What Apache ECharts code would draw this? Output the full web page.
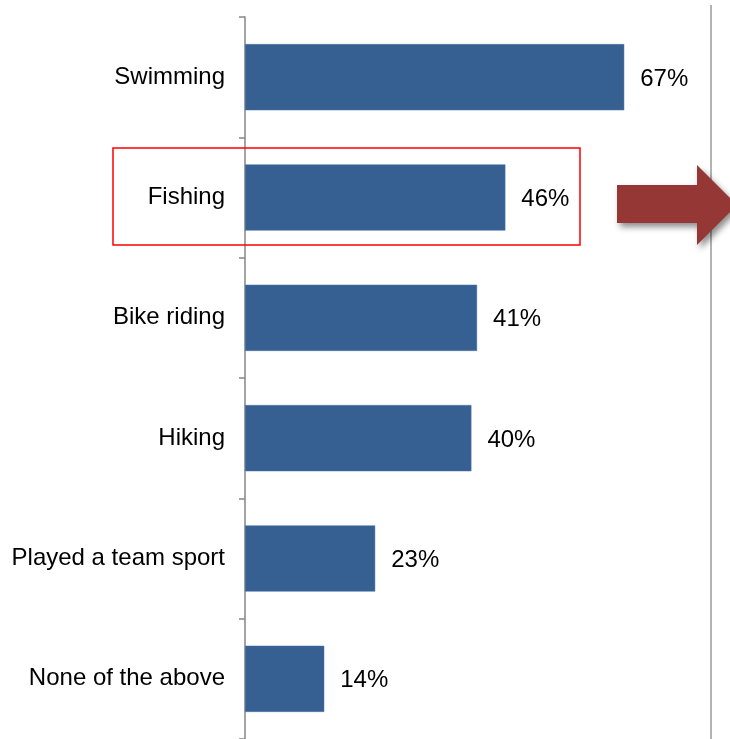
<!DOCTYPE html>
<html><head><meta charset="utf-8">
<script src="https://cdn.jsdelivr.net/npm/echarts@6/dist/echarts.min.js"></script>
<style>html,body{margin:0;padding:0;background:#fff}#c{width:730px;height:739px}</style>
</head><body><div id="c"></div>
<script>
const categories = ['Swimming', 'Fishing', 'Bike riding', 'Hiking', 'Played a team sport', 'None of the above'];
const values = [67, 46, 41, 40, 23, 14];

const chart = echarts.init(document.getElementById('c'));
chart.setOption({
  animation: false,
  backgroundColor: '#ffffff',
  grid: { left: 245, top: 17, bottom: 0, right: -81, containLabel: false, outerBoundsMode: 'none' },
  xAxis: { type: 'value', min: 0, max: 100, show: false },
  yAxis: {
    type: 'category', data: categories, inverse: true,
    axisLine: { show: true, lineStyle: { color: '#868686', width: 1.5 } },
    axisTick: { show: true, length: 6, lineStyle: { color: '#868686', width: 1.5 } },
    axisLabel: { fontFamily: 'Liberation Sans, Arial, sans-serif', fontSize: 24, color: '#000', margin: 20, padding: [4, 0, 0, 0] },
    splitLine: { show: false }
  },
  series: [{
    type: 'bar', data: values, barCategoryGap: '45%',
    itemStyle: { color: '#366092', borderColor: '#4a73a6', borderWidth: 0.5 },
    label: { show: true, position: 'right', distance: 16, offset: [0, 2], formatter: '{c}%',
      fontFamily: 'Liberation Sans, Arial, sans-serif', fontSize: 24, color: '#000' }
  }],
  graphic: [
    { type: 'line', shape: { x1: 711, y1: 5, x2: 711, y2: 739 }, style: { stroke: '#b3b3b3', lineWidth: 2 }, z: 1 },
    { type: 'rect', shape: { x: 113, y: 148, width: 467, height: 97 }, style: { fill: 'none', stroke: '#ff0000', lineWidth: 1.5 }, z: 5 },
    { type: 'polygon', shape: { points: [[617,185],[697,185],[697,165],[737,205],[697,245],[697,223],[617,223]] },
      style: { fill: '#953735', shadowBlur: 6, shadowOffsetX: 3, shadowOffsetY: 4, shadowColor: 'rgba(0,0,0,0.45)' }, z: 10 }
  ]
});
</script></body></html>
